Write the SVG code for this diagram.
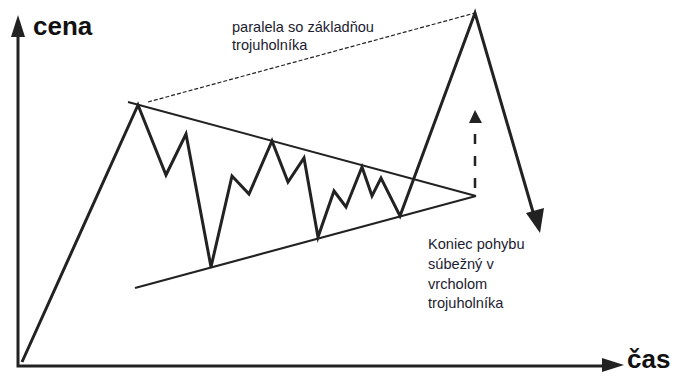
<svg xmlns="http://www.w3.org/2000/svg" width="675" height="376" viewBox="0 0 675 376">
<style>
.axis{stroke:#222;stroke-width:3;fill:none}
.price{stroke:#222;stroke-width:3;fill:none;stroke-linejoin:miter}
.trend{stroke:#222;stroke-width:2;fill:none}
.head{fill:#222;stroke:none}
.lbl{font-family:"Liberation Sans",Arial,sans-serif;font-size:14.6px;fill:#1c1c30}
.ax{font-family:"Liberation Sans",Arial,sans-serif;font-size:26px;font-weight:bold;fill:#111}
</style>
<rect width="675" height="376" fill="#fff"/>
<g id="axes">
<polyline class="axis" points="18,36 18,366 606,366"/>
<polygon class="head" points="18,15 11,37 25,37"/>
<polygon class="head" points="624,365 602,358 602,372"/>
</g>
<g id="label-cena"><text class="ax" x="33" y="35">cena</text></g>
<g id="label-cas"><text class="ax" x="627" y="368">čas</text></g>
<g id="connectors">
<line class="trend" x1="128" y1="102" x2="476" y2="196"/>
<line class="trend" x1="135" y1="288" x2="476" y2="196"/>
<line x1="148" y1="102" x2="475" y2="13" stroke="#222" stroke-width="1.2" stroke-dasharray="4,2"/>
<polyline class="price" points="22,362 138,105 166,175 186,134 211,267 232,176 249,194 272,141 288,182 304,158 318,237 334,191 346,207 362,167 372,196 381,178 400,216 475,13 533,212"/>
<polygon class="head" points="540,233 526,213 544,208"/>
<line x1="475" y1="188" x2="475" y2="123" stroke="#222" stroke-width="2.5" stroke-dasharray="10,12"/>
<polygon class="head" points="475,110 469,123 482,123"/>
</g>
<g id="label-parallel">
<text class="lbl" x="232" y="32">paralela so základňou</text>
<text class="lbl" x="232" y="50">trojuholníka</text>
</g>
<g id="label-end">
<text class="lbl" x="428" y="249">Koniec pohybu</text>
<text class="lbl" x="428" y="269">súbežný v</text>
<text class="lbl" x="428" y="289">vrcholom</text>
<text class="lbl" x="428" y="308">trojuholníka</text>
</g>
</svg>
